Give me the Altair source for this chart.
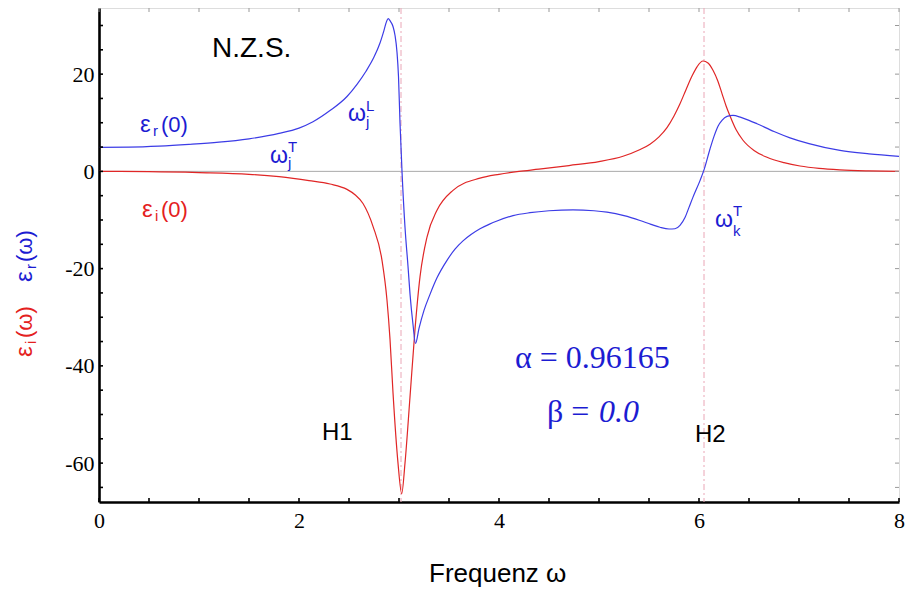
import altair as alt
import pandas as pd

# ---- data ----
freq_r = [0.0, 0.3, 0.6, 0.9, 1.2, 1.5, 1.8, 2.0, 2.14, 2.31, 2.48, 2.58, 2.67, 2.75, 2.81,
          2.85, 2.875, 2.893, 2.91, 2.94, 2.96, 2.98, 2.995, 3.01, 3.03, 3.06, 3.09, 3.11, 3.14, 3.165,
          3.2, 3.25, 3.31, 3.38, 3.48, 3.56, 3.64, 3.72, 3.81, 3.9, 3.98, 4.14, 4.31, 4.5, 4.74,
          4.95, 5.08, 5.25, 5.41, 5.52, 5.61, 5.7, 5.76, 5.81, 5.86, 5.9, 5.94, 6.01, 6.05, 6.11,
          6.15, 6.19, 6.23, 6.28, 6.34, 6.42, 6.5, 6.58, 6.75, 6.91, 7.1, 7.41, 7.7, 8.0]
eps_r = [4.95, 5.0, 5.2, 5.55, 6.0, 6.7, 7.8, 8.9, 10.2, 12.5, 15.4, 17.9, 20.6, 23.5, 26.4,
         29.0, 30.8, 31.4, 31.0, 29.8, 28.0, 24.5, 19.5, 10.0, 0.0, -11.5, -19.5, -25.2, -31.5, -35.4,
         -32.3, -28.6, -25.3, -21.9, -18.3, -16.0, -14.3, -13.0, -11.8, -10.9, -10.2, -9.1, -8.5, -8.1, -7.9,
         -8.1, -8.4, -9.1, -10.1, -10.9, -11.5, -11.85, -11.8, -11.1, -9.5, -7.4, -5.3, -1.9, 0.3, 4.6,
         7.2, 9.3, 10.5, 11.3, 11.5, 11.1, 10.5, 9.8, 8.2, 6.9, 5.7, 4.3, 3.6, 3.1]

freq_i = [0.0, 0.5, 1.0, 1.5, 1.8, 2.1, 2.31, 2.48, 2.56, 2.64, 2.74, 2.83, 2.88, 2.91, 2.94,
          2.99, 3.027, 3.06, 3.11, 3.16, 3.21, 3.28, 3.38, 3.54, 3.81, 4.0, 4.2, 4.4, 4.7, 5.0,
          5.24, 5.4, 5.51, 5.6, 5.68, 5.75, 5.81, 5.87, 5.93, 5.98, 6.04, 6.09, 6.14, 6.19, 6.23,
          6.27, 6.31, 6.37, 6.44, 6.55, 6.68, 6.85, 7.01, 7.2, 7.41, 7.7, 8.0]
eps_i = [0.0, -0.05, -0.25, -0.6, -1.1, -1.9, -2.6, -3.7, -4.8, -6.6, -11.3, -18.3, -26.5, -34.5, -45.5,
         -60.0, -66.3, -60.0, -46.4, -32.5, -21.7, -13.5, -8.0, -3.9, -1.4, -0.6, 0.0, 0.45, 1.2, 2.0,
         3.1, 4.4, 5.6, 7.1, 9.0, 11.4, 13.9, 16.8, 19.6, 21.5, 22.7, 22.3, 20.8, 18.5, 16.0,
         13.5, 11.4, 8.6, 6.4, 4.3, 2.9, 1.8, 1.1, 0.6, 0.3, 0.1, 0.0]

resonances = [3.02, 6.05]
x_labels = [0, 2, 4, 6, 8]
y_labels = [-60, -40, -20, 0, 20]
x_ticks = [i * 0.5 for i in range(17)]
y_ticks = list(range(-65, 35, 5))

# ---- styling ----
W, H = 800, 494
BLUE_LINE = "#3c3ce6"
RED_LINE = "#e02626"
BLUE_TXT = "#1c1cd2"
RED_TXT = "#e42020"
SANS = "Liberation Sans"
SERIF = "Liberation Serif"

xs = alt.Scale(domain=[0, 8], nice=False, zero=False)
ys = alt.Scale(domain=[-68, 33.6], nice=False, zero=False)

X_AX = alt.Axis(values=x_labels, ticks=False, grid=False, title=None, labelFont=SERIF,
                labelFontSize=22, labelColor="black", labelPadding=8, domainColor="black",
                domainWidth=2.6, labelFlush=False, labelExpr="'' + datum.value")
Y_AX = alt.Axis(values=y_labels, ticks=False, grid=False, title=None, labelFont=SERIF,
                labelFontSize=22, labelColor="black", labelPadding=5, domainColor="black",
                domainWidth=2.6, labelFlush=False, labelExpr="'' + datum.value")


def X(f):
    return alt.X(f, scale=xs, axis=X_AX)


def Y(f):
    return alt.Y(f, scale=ys, axis=Y_AX)


df_r = pd.DataFrame({"w": freq_r, "v": eps_r})
df_i = pd.DataFrame({"w": freq_i, "v": eps_i})

blue = alt.Chart(df_r).mark_line(color=BLUE_LINE, strokeWidth=1.2, interpolate="monotone").encode(
    x=X("w:Q"), y=Y("v:Q"))
red = alt.Chart(df_i).mark_line(color=RED_LINE, strokeWidth=1.2, interpolate="monotone").encode(
    x=X("w:Q"), y=Y("v:Q"))

zero = alt.Chart(pd.DataFrame({"v": [0]})).mark_rule(color="#aaaaaa", strokeWidth=1).encode(
    y=Y("v:Q"))

dashed = alt.Chart(pd.DataFrame({"w": resonances})).mark_rule(
    color="#eaa6b6", strokeWidth=1, strokeDash=[6, 3, 2, 3]).encode(x=X("w:Q"))

# inward ticks
dfx = pd.DataFrame({"w": x_ticks})
dfy = pd.DataFrame({"v": y_ticks})
tick_bottom = alt.Chart(dfx).mark_rule(color="black", strokeWidth=1.6).encode(
    x=X("w:Q"), y=alt.value(H), y2=alt.value(H - 4))
tick_top = alt.Chart(dfx).mark_rule(color="#999999", strokeWidth=1).encode(
    x=X("w:Q"), y=alt.value(0), y2=alt.value(4))
tick_left = alt.Chart(dfy).mark_rule(color="black", strokeWidth=1.6).encode(
    y=Y("v:Q"), x=alt.value(0), x2=alt.value(4))
tick_right = alt.Chart(dfy).mark_rule(color="#999999", strokeWidth=1).encode(
    y=Y("v:Q"), x=alt.value(W), x2=alt.value(W - 4))


def txt(s, x, y, size, color, font=SANS, dx=0, dy=0, style="normal", angle=None, px=False):
    df = pd.DataFrame({"t": [s], "x": [x], "y": [y]})
    kw = dict(align="left", baseline="alphabetic", font=font, fontSize=size, color=color,
              dx=dx, dy=dy, fontStyle=style)
    if angle is not None:
        kw["angle"] = angle
    mk = alt.Chart(df).mark_text(**kw)
    if px:
        return mk.encode(x=alt.value(x), y=alt.value(y), text="t:N")
    return mk.encode(x=X("x:Q"), y=Y("y:Q"), text="t:N")


labels = [
    txt("N.Z.S.", 1.13, 23.5, 28, "black"),
    # eps_r(0)
    txt("ε", 0.41, 8.1, 24, BLUE_TXT),
    txt("r", 0.41, 8.1, 15, BLUE_TXT, dx=13, dy=4),
    txt("(0)", 0.41, 8.1, 22, BLUE_TXT, dx=21),
    # eps_i(0)
    txt("ε", 0.43, -9.3, 24, RED_TXT),
    txt("i", 0.43, -9.3, 15, RED_TXT, dx=13, dy=4),
    txt("(0)", 0.43, -9.3, 22, RED_TXT, dx=19),
    # omega_j^T
    txt("ω", 1.71, 1.7, 23, BLUE_TXT),
    txt("T", 1.71, 1.7, 15, BLUE_TXT, dx=18, dy=-11),
    txt("j", 1.71, 1.7, 15, BLUE_TXT, dx=18, dy=5),
    # omega_j^L
    txt("ω", 2.49, 10.3, 23, BLUE_TXT),
    txt("L", 2.49, 10.3, 15, BLUE_TXT, dx=18, dy=-10),
    txt("j", 2.49, 10.3, 15, BLUE_TXT, dx=18, dy=6),
    # omega_k^T
    txt("ω", 6.16, -11.4, 23, BLUE_TXT),
    txt("T", 6.16, -11.4, 15, BLUE_TXT, dx=18, dy=-11),
    txt("k", 6.16, -11.4, 15, BLUE_TXT, dx=18, dy=9),
    txt("H1", 2.23, -55.3, 24, "black"),
    txt("H2", 5.96, -55.6, 24, "black"),
    txt("α = 0.96165", 4.16, -40.4, 32, BLUE_TXT, font=SERIF),
    txt("β =", 4.48, -51.5, 32, BLUE_TXT, font=SERIF),
    txt("0.0", 4.48, -51.5, 32, BLUE_TXT, font=SERIF, dx=52, style="italic"),
    # axis titles
    txt("Frequenz ω", W / 2, 574, 26, "black", px=True, dx=-70),
    txt("ε", -67, 349, 24, RED_TXT, px=True, angle=270),
    txt("i", -67, 349, 15, RED_TXT, px=True, angle=270, dx=13, dy=4),
    txt("(ω)", -67, 349, 22, RED_TXT, px=True, angle=270, dx=19),
    txt("ε", -67, 274, 24, BLUE_TXT, px=True, angle=270),
    txt("r", -67, 274, 15, BLUE_TXT, px=True, angle=270, dx=13, dy=4),
    txt("(ω)", -67, 274, 22, BLUE_TXT, px=True, angle=270, dx=20),
]

chart = alt.layer(
    zero, dashed, red, blue, tick_bottom, tick_top, tick_left, tick_right, *labels
).properties(
    width=W, height=H,
    autosize=alt.AutoSizeParams(type="none"),
    padding={"left": 99, "top": 8, "right": 7, "bottom": 90},
).configure_view(stroke="#999999", strokeWidth=1).configure(background="white")

chart.save("out.html", embed_options={"renderer": "svg", "actions": False})
